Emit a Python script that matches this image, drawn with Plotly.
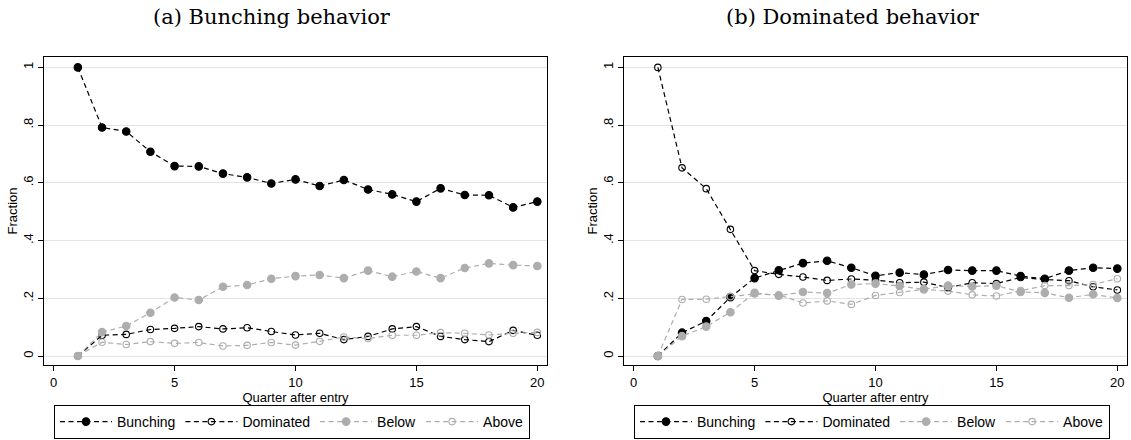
import plotly.graph_objects as go

quarters = list(range(1, 21))

# Panel (a): Bunching behavior
a_bunching = [1.0, 0.792, 0.778, 0.708, 0.658, 0.657, 0.632, 0.619, 0.598, 0.612,
              0.589, 0.610, 0.577, 0.560, 0.535, 0.581, 0.558, 0.557, 0.515, 0.535]
a_dominated = [0.0, 0.072, 0.075, 0.092, 0.096, 0.102, 0.094, 0.098, 0.085, 0.073,
               0.079, 0.057, 0.068, 0.094, 0.102, 0.068, 0.057, 0.050, 0.089, 0.072]
a_below = [0.0, 0.083, 0.104, 0.150, 0.203, 0.194, 0.240, 0.246, 0.268, 0.277,
           0.281, 0.270, 0.296, 0.275, 0.293, 0.270, 0.305, 0.321, 0.315, 0.312]
a_above = [0.0, 0.048, 0.040, 0.050, 0.044, 0.047, 0.035, 0.037, 0.047, 0.038,
           0.051, 0.066, 0.061, 0.072, 0.072, 0.081, 0.079, 0.073, 0.079, 0.082]

# Panel (b): Dominated behavior
b_bunching = [0.0, 0.081, 0.121, 0.204, 0.270, 0.297, 0.322, 0.330, 0.306, 0.278,
              0.289, 0.282, 0.298, 0.296, 0.296, 0.277, 0.268, 0.296, 0.306, 0.303]
b_dominated = [1.0, 0.652, 0.580, 0.439, 0.296, 0.283, 0.274, 0.262, 0.267, 0.263,
               0.254, 0.256, 0.237, 0.254, 0.251, 0.272, 0.265, 0.261, 0.240, 0.229]
b_below = [0.0, 0.069, 0.102, 0.152, 0.219, 0.209, 0.222, 0.218, 0.248, 0.251,
           0.243, 0.231, 0.244, 0.241, 0.244, 0.222, 0.219, 0.202, 0.214, 0.201]
b_above = [0.0, 0.196, 0.197, 0.206, 0.215, 0.212, 0.184, 0.191, 0.179, 0.210,
           0.220, 0.231, 0.225, 0.212, 0.208, 0.227, 0.244, 0.244, 0.248, 0.268]

series_names = ["Bunching", "Dominated", "Below", "Above"]
panel_titles = ["(a) Bunching behavior", "(b) Dominated behavior"]
x_ticks = [0, 5, 10, 15, 20]
y_ticks = [0, 0.2, 0.4, 0.6, 0.8, 1.0]
y_ticklabels = ["0", ".2", ".4", ".6", ".8", "1"]

BLACK = "#000000"
GRAY = "#adadad"
styles = {
    "Bunching": dict(color=BLACK, filled=True),
    "Dominated": dict(color=BLACK, filled=False),
    "Below": dict(color=GRAY, filled=True),
    "Above": dict(color=GRAY, filled=False),
}

SANS = "Liberation Sans, Arial, Helvetica, sans-serif"
SERIF = "DejaVu Serif, Liberation Serif, serif"

W, H = 1131, 440
fig = go.Figure()

panels = [
    (dict(Bunching=a_bunching, Dominated=a_dominated, Below=a_below, Above=a_above), "x", "y", "legend"),
    (dict(Bunching=b_bunching, Dominated=b_dominated, Below=b_below, Above=b_above), "x2", "y2", "legend2"),
]

for data, xa, ya, lg in panels:
    for name in series_names:
        st = styles[name]
        marker = dict(
            symbol="circle" if st["filled"] else "circle-open",
            size=7.5 if st["filled"] else 6.5,
            color=st["color"],
            line=dict(color=st["color"], width=1.1),
        )
        fig.add_trace(go.Scatter(
            x=quarters, y=data[name], name=name, mode="lines+markers",
            line=dict(color=st["color"], width=1.2, dash="5px,3.5px"),
            marker=marker, xaxis=xa, yaxis=ya, legend=lg,
        ))

axis_common_x = dict(
    range=[-0.4, 20.4], tickvals=x_ticks, ticks="outside", ticklen=5, tickwidth=1,
    tickcolor="black", showline=True, linecolor="black", linewidth=1, mirror=True,
    showgrid=False, zeroline=False, tickfont=dict(family=SANS, size=13, color="black"),
    title=dict(text="Quarter after entry", font=dict(family=SANS, size=13, color="black"), standoff=0),
)
axis_common_y = dict(
    range=[-0.031, 1.036], tickvals=y_ticks, ticktext=y_ticklabels, tickangle=-90,
    ticks="outside", ticklen=5, tickwidth=1, tickcolor="black",
    showline=True, linecolor="black", linewidth=1, mirror=True,
    showgrid=True, gridcolor="#e3e3e3", gridwidth=1.2, zeroline=False,
    tickfont=dict(family=SANS, size=13, color="black"),
    title=dict(text="Fraction", font=dict(family=SANS, size=13, color="black"), standoff=0),
)

px_x = lambda p: p / W
px_y = lambda p: 1 - p / H

ydom = [px_y(365), px_y(57)]
legend_common = dict(
    orientation="h", yanchor="bottom", y=px_y(439),
    bordercolor="black", borderwidth=1, bgcolor="white",
    font=dict(family=SANS, size=14, color="black"),
    itemwidth=52, xanchor="center",
)
fig.update_layout(
    width=W, height=H,
    margin=dict(l=0, r=0, t=0, b=0),
    paper_bgcolor="white", plot_bgcolor="white",
    xaxis=dict(domain=[px_x(44), px_x(547)], anchor="y", **axis_common_x),
    yaxis=dict(domain=ydom, anchor="x", **axis_common_y),
    xaxis2=dict(domain=[px_x(624), px_x(1127)], anchor="y2", **axis_common_x),
    yaxis2=dict(domain=ydom, anchor="x2", **axis_common_y),
    legend=dict(x=px_x(292), **legend_common),
    legend2=dict(x=px_x(872), **legend_common),
    showlegend=True,
)

for title, cx in zip(panel_titles, [272, 853]):
    fig.add_annotation(
        text=title, x=px_x(cx), y=px_y(17), xref="paper", yref="paper",
        xanchor="center", yanchor="middle", showarrow=False,
        font=dict(family=SERIF, size=21, color="black"),
    )

fig.write_html("out.html", config={"displayModeBar": False},
               post_script="document.body.style.margin='0px';")
